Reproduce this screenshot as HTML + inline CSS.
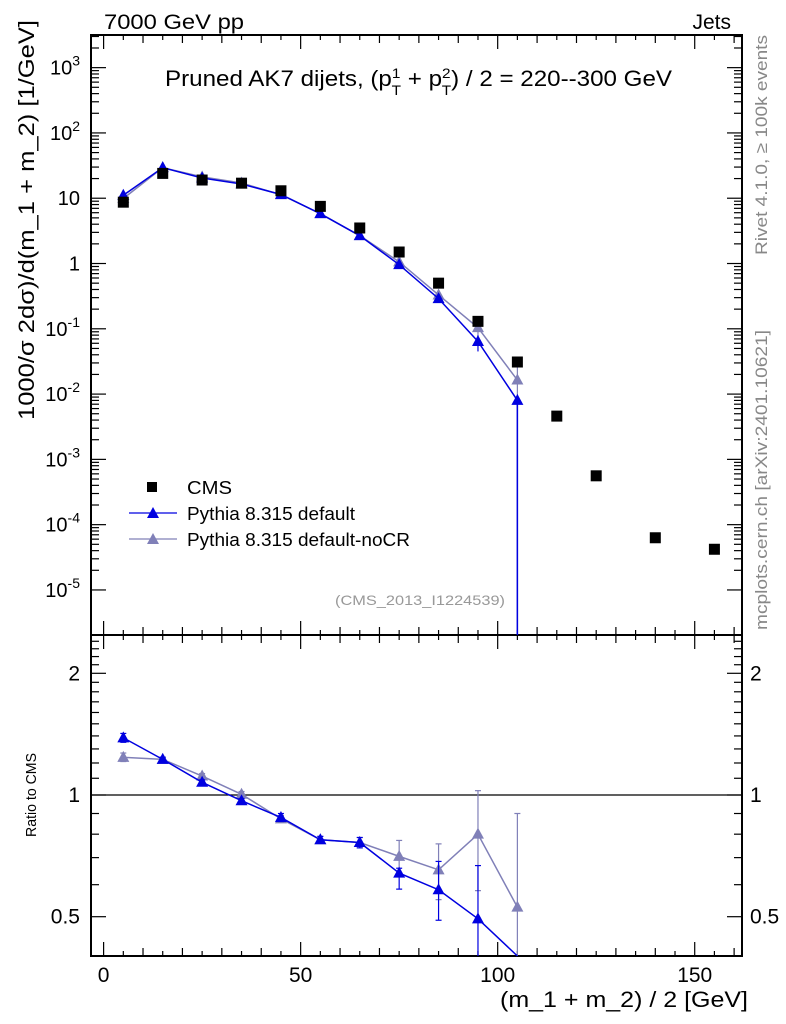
<!DOCTYPE html>
<html><head><meta charset="utf-8"><style>
body{margin:0;background:#fff;}
svg{display:block;font-family:"Liberation Sans",sans-serif;}
</style></head><body>
<svg id="c" width="786" height="1024" viewBox="0 0 786 1024">
<text x="104" y="29" font-size="21" textLength="140" lengthAdjust="spacingAndGlyphs">7000 GeV pp</text>
<text x="731" y="29" font-size="21" text-anchor="end">Jets</text>
<text x="165" y="86" font-size="22" textLength="507" lengthAdjust="spacingAndGlyphs">Pruned AK7 dijets, (p<tspan dy="-8" font-size="14">1</tspan><tspan dx="-8" dy="17" font-size="14">T</tspan><tspan dy="-9"> + p</tspan><tspan dy="-8" font-size="14">2</tspan><tspan dx="-8" dy="17" font-size="14">T</tspan><tspan dy="-9">) / 2 = 220--300 GeV</tspan></text>
<text transform="translate(34,220) rotate(-90)" font-size="22" text-anchor="middle" textLength="400" lengthAdjust="spacingAndGlyphs">1000/σ   2dσ)/d(m_1 + m_2) [1/GeV]</text>
<text transform="translate(36,795) rotate(-90)" font-size="15" text-anchor="middle" textLength="84" lengthAdjust="spacingAndGlyphs">Ratio to CMS</text>
<text transform="translate(767,145) rotate(-90)" font-size="17" fill="#888" text-anchor="middle" textLength="220" lengthAdjust="spacingAndGlyphs">Rivet 4.1.0, ≥ 100k events</text>
<text transform="translate(767,480) rotate(-90)" font-size="17" fill="#888" text-anchor="middle" textLength="300" lengthAdjust="spacingAndGlyphs">mcplots.cern.ch [arXiv:2401.10621]</text>
<text x="420" y="605" font-size="14" fill="#999" text-anchor="middle" textLength="170" lengthAdjust="spacingAndGlyphs">(CMS_2013_I1224539)</text>
<text x="748" y="1007" font-size="22" text-anchor="end" textLength="248" lengthAdjust="spacingAndGlyphs">(m_1 + m_2) / 2 [GeV]</text>
<g>
<rect x="147" y="482" width="10" height="10" fill="#000"/>
<text x="187" y="494" font-size="18" textLength="45" lengthAdjust="spacingAndGlyphs">CMS</text>
<line x1="129" y1="513" x2="177" y2="513" stroke="#0000e0" stroke-width="1.3"/>
<polygon points="153,507 159,518 147,518" fill="#0000e0"/>
<text x="187" y="520" font-size="18" textLength="168" lengthAdjust="spacingAndGlyphs">Pythia 8.315 default</text>
<line x1="129" y1="539" x2="177" y2="539" stroke="#8080b8" stroke-width="1.3"/>
<polygon points="153,533 159,544 147,544" fill="#8080b8"/>
<text x="187" y="546" font-size="18" textLength="223" lengthAdjust="spacingAndGlyphs">Pythia 8.315 default-noCR</text>
</g>
<g id="plot"></g>
</svg>
<script>
const xs=[5,15,25,35,45,55,65,75,85,95,105];
const cmsX=[5,15,25,35,45,55,65,75,85,95,105,115,125,140,155];
const cmsY=[8.7,24,19,17,13,7.5,3.5,1.5,0.5,0.13,0.031,0.0046,0.00056,6.3e-5,4.2e-5];
const defY=[11.1,29.4,20.4,16.5,11.4,5.8,2.67,0.96,0.29,0.064,0.008];
const nocrY=[9.9,29.4,21.2,17.1,11.3,5.8,2.67,1.06,0.33,0.104,0.0164];
const defLo=[10.8,29,20,16.2,11.2,5.7,2.6,0.91,0.26,0.045,0.000001];
const defHi=[11.4,29.8,20.8,16.8,11.6,5.9,2.74,1.0,0.32,0.08,0.0095];
const nocrLo=[9.6,29,20.8,16.8,11.1,5.7,2.6,1.0,0.3,0.08,0.006];
const nocrHi=[10.2,29.8,21.6,17.4,11.5,5.9,2.74,1.1,0.36,0.13,0.028];
const defR=[1.385,1.225,1.075,0.968,0.88,0.775,0.763,0.641,0.583,0.494,0.001];
const defRlo=[1.35,1.21,1.06,0.955,0.86,0.76,0.74,0.585,0.49,0.001,0.001];
const defRhi=[1.42,1.24,1.09,0.98,0.9,0.79,0.785,0.659,0.685,0.669,0.001];
const nocrR=[1.239,1.225,1.114,1.004,0.873,0.775,0.763,0.705,0.653,0.80,0.528];
const nocrRlo=[1.21,1.21,1.10,0.99,0.86,0.76,0.74,0.64,0.551,0.58,0.001];
const nocrRhi=[1.27,1.24,1.13,1.02,0.89,0.79,0.785,0.772,0.757,1.025,0.90];
const ratioTicks=[0.5,1,2];
const mainDecades=[-5,-4,-3,-2,-1,0,1,2,3];

const L=91,R=742,T=35,M=635,B=956;
const xmin=-3.2,xmax=162;
const X=v=>L+(v-xmin)/(xmax-xmin)*(R-L);
const lmax=3.5,lmin=-5.69;
const Y=v=>T+(lmax-Math.log10(Math.max(v,1e-9)))/(lmax-lmin)*(M-T);
const rY=v=>795-Math.log2(Math.max(v,1e-6))*121.7;
const NS='http://www.w3.org/2000/svg';
const g=document.getElementById('plot');
function mk(t,a,p){const e=document.createElementNS(NS,t);for(const k in a)e.setAttribute(k,a[k]);(p||g).appendChild(e);return e;}
function clipY(y,top,bot){return Math.min(Math.max(y,top),bot);}
let f1=mk('rect',{x:L,y:T,width:R-L,height:M-T,fill:'none',stroke:'#000','stroke-width':2});


let f2=mk('rect',{x:L,y:M,width:R-L,height:B-M,fill:'none',stroke:'#000','stroke-width':2});


for(let v=0;v<=160;v+=5){const x=X(v);const len=v%50==0?14:(v%10==0?8:5);
 for(const [y0,d] of [[T,1],[M,-1],[M,1],[B,-1]]) mk('line',{x1:x,x2:x,y1:y0,y2:y0+d*len,stroke:'#000','stroke-width':1.2});
 if(v%50==0){const t=mk('text',{x:x,y:982,'font-size':21,'text-anchor':'middle'});t.textContent=v;
 
 }}
mainDecades.forEach(d=>{for(let m=1;m<10;m++){const y=Y(m*Math.pow(10,d));if(y<T||y>M)continue;const len=m==1?15:8;
 mk('line',{x1:L,x2:L+len,y1:y,y2:y,stroke:'#000','stroke-width':1.2});mk('line',{x1:R,x2:R-len,y1:y,y2:y,stroke:'#000','stroke-width':1.2});}
 const y=Y(Math.pow(10,d));const t=mk('text',{x:80,y:y+7,'font-size':20,'text-anchor':'end'});
 
 
 if(d==0)t.textContent='1';else if(d==1)t.textContent='10';else{t.textContent='10';const s=mk('tspan',{dy:-9,'font-size':14},t);s.textContent=d;}});
for(let v=0.4;v<=2.5;v=Math.round((v+0.1)*10)/10){const y=rY(v);if(y<M||y>B)continue;const major=ratioTicks.includes(v);const len=major?15:8;
 mk('line',{x1:L,x2:L+len,y1:y,y2:y,stroke:'#000','stroke-width':1.2});mk('line',{x1:R,x2:R-len,y1:y,y2:y,stroke:'#000','stroke-width':1.2});}
ratioTicks.forEach(v=>{const y=rY(v);for(const [x,a] of [[80,'end'],[750,'start']]){const t=mk('text',{x:x,y:y+7,'font-size':21,'text-anchor':a});t.textContent=v;
 
 }});
let one=mk('line',{x1:L,x2:R,y1:rY(1),y2:rY(1),stroke:'#000','stroke-width':1.3});


function tri(x,y,c,name){const p=mk('polygon',{points:`${x},${y-6.5} ${x+6},${y+4.5} ${x-6},${y+4.5}`,fill:c});
 
 }
function series(vals,lo,hi,rat,rlo,rhi,c,name,bottomErr){
 let pts=xs.map((x,i)=>[X(x),clipY(Y(vals[i]),T,M)]);
 if(bottomErr)pts.push([X(xs[xs.length-1]),M]);
 const pl=mk('polyline',{points:pts.map(p=>p.join(',')).join(' '),fill:'none',stroke:c,'stroke-width':1.5});
 
 
 xs.forEach((x,i)=>{const yc=Y(vals[i]);const y1=clipY(Y(lo[i]),T,M),y2=clipY(Y(hi[i]),T,M);
  mk('line',{x1:X(x),x2:X(x),y1:y1,y2:y2,stroke:c,'stroke-width':1.2});
  tri(X(x),yc,c,name+'-point');});
 const rp=xs.map((x,i)=>[X(x),clipY(rY(rat[i]),M,B)]);
 const rl=mk('polyline',{points:rp.filter((p,i)=>i==0||rat[i-1]>0.01).map(p=>p.join(',')).join(' '),fill:'none',stroke:c,'stroke-width':1.5});
 
 
 xs.forEach((x,i)=>{const y1=clipY(rY(rlo[i]),M,B),y2=clipY(rY(rhi[i]),M,B);
  if(rhi[i]>0.01){mk('line',{x1:X(x),x2:X(x),y1:y1,y2:y2,stroke:c,'stroke-width':1.2});
   [y1,y2].forEach(yy=>{if(yy<B-1)mk('line',{x1:X(x)-3,x2:X(x)+3,y1:yy,y2:yy,stroke:c,'stroke-width':1.2});});}
  if(rat[i]>0.01&&rY(rat[i])<B)tri(X(x),rY(rat[i]),c,name+'-ratio-point');});
}
series(nocrY,nocrLo,nocrHi,nocrR,nocrRlo,nocrRhi,'#8080b8','pythia-nocr',false);
series(defY,defLo,defHi,defR,defRlo,defRhi,'#0000e0','pythia-default',true);
cmsX.forEach((x,i)=>{const r=mk('rect',{x:X(x)-5.5,y:Y(cmsY[i])-5.5,width:11,height:11,fill:'#000'});
 
 });
</script>
</body></html>
